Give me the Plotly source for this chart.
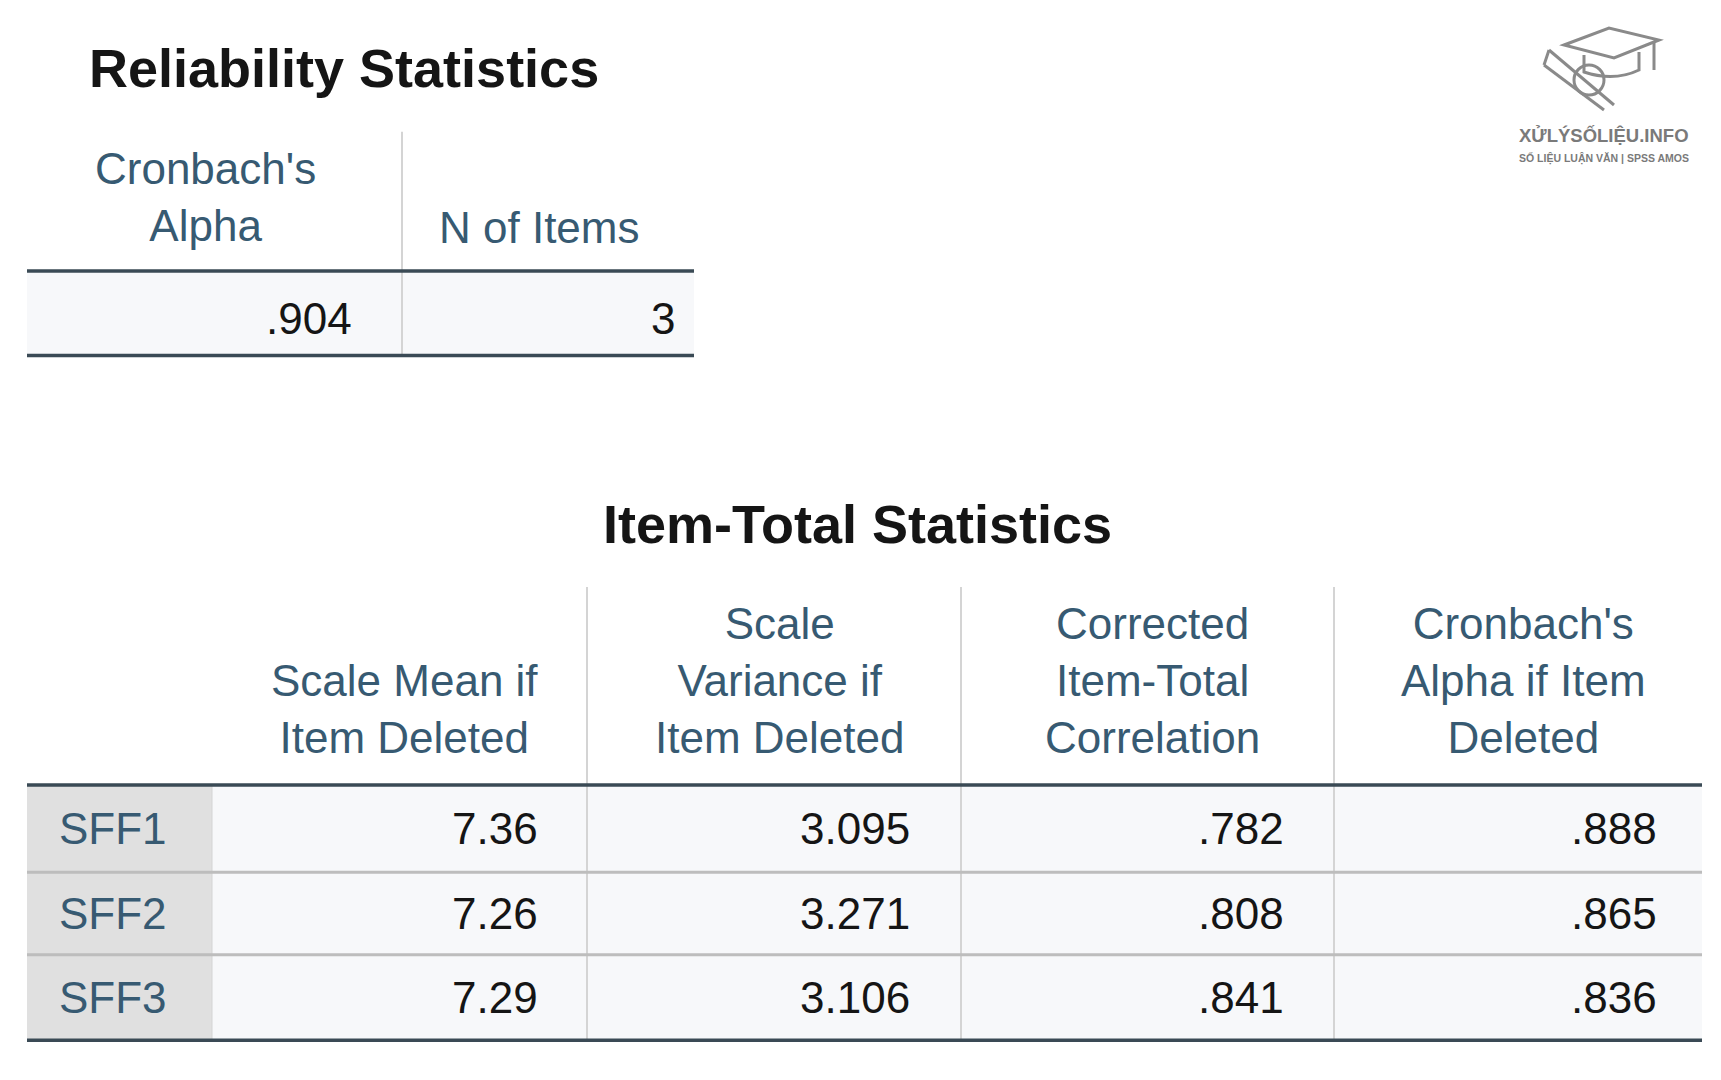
import plotly.graph_objects as go

title1 = "Reliability Statistics"
rel_headers = ["Cronbach's<br>Alpha", "N of Items"]
rel_values = [".904", "3"]

title2 = "Item-Total Statistics"
item_headers = ["Scale Mean if<br>Item Deleted", "Scale<br>Variance if<br>Item Deleted",
                "Corrected<br>Item-Total<br>Correlation", "Cronbach's<br>Alpha if Item<br>Deleted"]
items = ["SFF1", "SFF2", "SFF3"]
scale_mean = ["7.36", "7.26", "7.29"]
scale_var = ["3.095", "3.271", "3.106"]
corr = [".782", ".808", ".841"]
alpha_del = [".888", ".865", ".836"]

FONT = "Liberation Sans, Arial, sans-serif"
HDR = "#375a72"
NUM = "#151515"
THICK = "#3a4a55"
DX, DY = -9, -9
fig = go.Figure()
shapes = []
ann = []

def Y(y):
    return y + DY - (y - 272) * 0.006

def text(x, y, s, size=44, color=NUM, xanchor="center", bold=False, yanchor="middle"):
    ann.append(dict(x=x + DX, y=Y(y), xref="x", yref="y", text=(f"<b>{s}</b>" if bold else s),
                    showarrow=False, xanchor=xanchor, yanchor=yanchor,
                    font=dict(family=FONT, size=size, color=color)))

def rect(x0, y0, x1, y1, fill):
    shapes.append(dict(type="rect", x0=x0 + DX, y0=Y(y0), x1=x1 + DX, y1=Y(y1), xref="x", yref="y",
                       fillcolor=fill, line=dict(width=0), layer="below"))

def line(x0, y0, x1, y1, color, w, shift=True):
    if shift:
        x0, x1, y0, y1 = x0 + DX, x1 + DX, Y(y0), Y(y1)
    shapes.append(dict(type="line", x0=x0, y0=y0, x1=x1, y1=y1, xref="x", yref="y",
                       line=dict(color=color, width=w)))

# Table 1
text(88, 68, title1, size=54, xanchor="left", bold=True)
L1, D1, R1 = 28, 403, 695
rect(L1, 274, R1, 357, "#f7f8fa")
line(D1, 132, D1, 357, "#d4d4d4", 2)
ann.append(dict(x=206 + DX, y=Y(198), xref="x", yref="y", text=rel_headers[0], showarrow=False,
                font=dict(family=FONT, size=44, color=HDR), align="center"))
text(540, 228, rel_headers[1], color=HDR)
text(355, 320, rel_values[0], xanchor="right")
text(678, 320, rel_values[1], xanchor="right")
line(L1, 272, R1, 272, THICK, 3.5)
line(L1, 357, R1, 357, THICK, 3.5)

# Table 2
text(858, 527, title2, size=54, bold=True)
cols = [28, 213, 588, 962, 1335, 1703]
rows = [789, 877, 960, 1046]
for i in range(3):
    rect(cols[0], rows[i], cols[1], rows[i + 1], "#e0e0e0")
    rect(cols[1], rows[i], cols[5], rows[i + 1], "#f7f8fa")
for c in cols[2:5]:
    line(c, 590, c, 1046, "#d4d4d4", 2)
line(cols[1], 789, cols[1], 1046, "#d4d4d4", 1)
for j, h in enumerate(item_headers):
    cx = (cols[j + 1] + cols[j + 2]) / 2 + 5
    ann.append(dict(x=cx + DX, y=Y(768), xref="x", yref="y", text=h, showarrow=False,
                    xanchor="center", yanchor="bottom", align="center",
                    font=dict(family=FONT, size=44, color=HDR)))
right_edges = [541, 913, 1287, 1660]
for i in range(3):
    cy = (rows[i] + rows[i + 1]) / 2
    text(58, cy, items[i], color=HDR, xanchor="left")
    for j, col in enumerate([scale_mean, scale_var, corr, alpha_del]):
        text(right_edges[j], cy, col[i], xanchor="right")
for r in rows[1:3]:
    line(cols[0], r, cols[5], r, "#bdbdbd", 3)
line(cols[0], rows[0], cols[5], rows[0], THICK, 3.5)
line(cols[0], rows[3], cols[5], rows[3], THICK, 3.5)

# Logo
G = "#8a8a8a"
ox, oy = -14, -8
shapes.append(dict(type="path", path=f"M {1570+ox} {45+oy} L {1615+ox} {28+oy} L {1665+ox} {40+oy} L {1620+ox} {58+oy} Z",
                   xref="x", yref="y", line=dict(color=G, width=3)))
shapes.append(dict(type="path", path=f"M {1590+ox} {55+oy} L {1590+ox} {72+oy} Q {1620+ox} {82+oy} {1645+ox} {70+oy} L {1645+ox} {52+oy}",
                   xref="x", yref="y", line=dict(color=G, width=3)))
shapes.append(dict(type="circle", x0=1580+ox, y0=65+oy, x1=1610+ox, y1=95+oy, xref="x", yref="y",
                   line=dict(color=G, width=3)))
line(1555+ox, 50+oy, 1620+ox, 105+oy, G, 3, shift=False)
line(1555+ox, 50+oy, 1550+ox, 65+oy, G, 3, shift=False)
line(1550+ox, 65+oy, 1610+ox, 110+oy, G, 3, shift=False)
line(1660+ox, 42+oy, 1660+ox, 70+oy, G, 3, shift=False)
ann.append(dict(x=1610+ox, y=135+oy, xref="x", yref="y", text="<b>XỬLÝSỐLIỆU.INFO</b>", showarrow=False,
                font=dict(family=FONT, size=18.5, color="#7a7a7a")))
ann.append(dict(x=1610+ox, y=158+oy, xref="x", yref="y", text="<b>SỐ LIỆU LUẬN VĂN | SPSS AMOS</b>", showarrow=False,
                font=dict(family=FONT, size=10.5, color="#7a7a7a")))

fig.update_layout(width=1721, height=1080, margin=dict(l=0, r=0, t=0, b=0),
                  paper_bgcolor="white", plot_bgcolor="white",
                  xaxis=dict(range=[0, 1721], visible=False, fixedrange=True),
                  yaxis=dict(range=[1080, 0], visible=False, fixedrange=True),
                  shapes=shapes, annotations=ann, showlegend=False)
fig.write_html("out.html", config={"displayModeBar": False})
